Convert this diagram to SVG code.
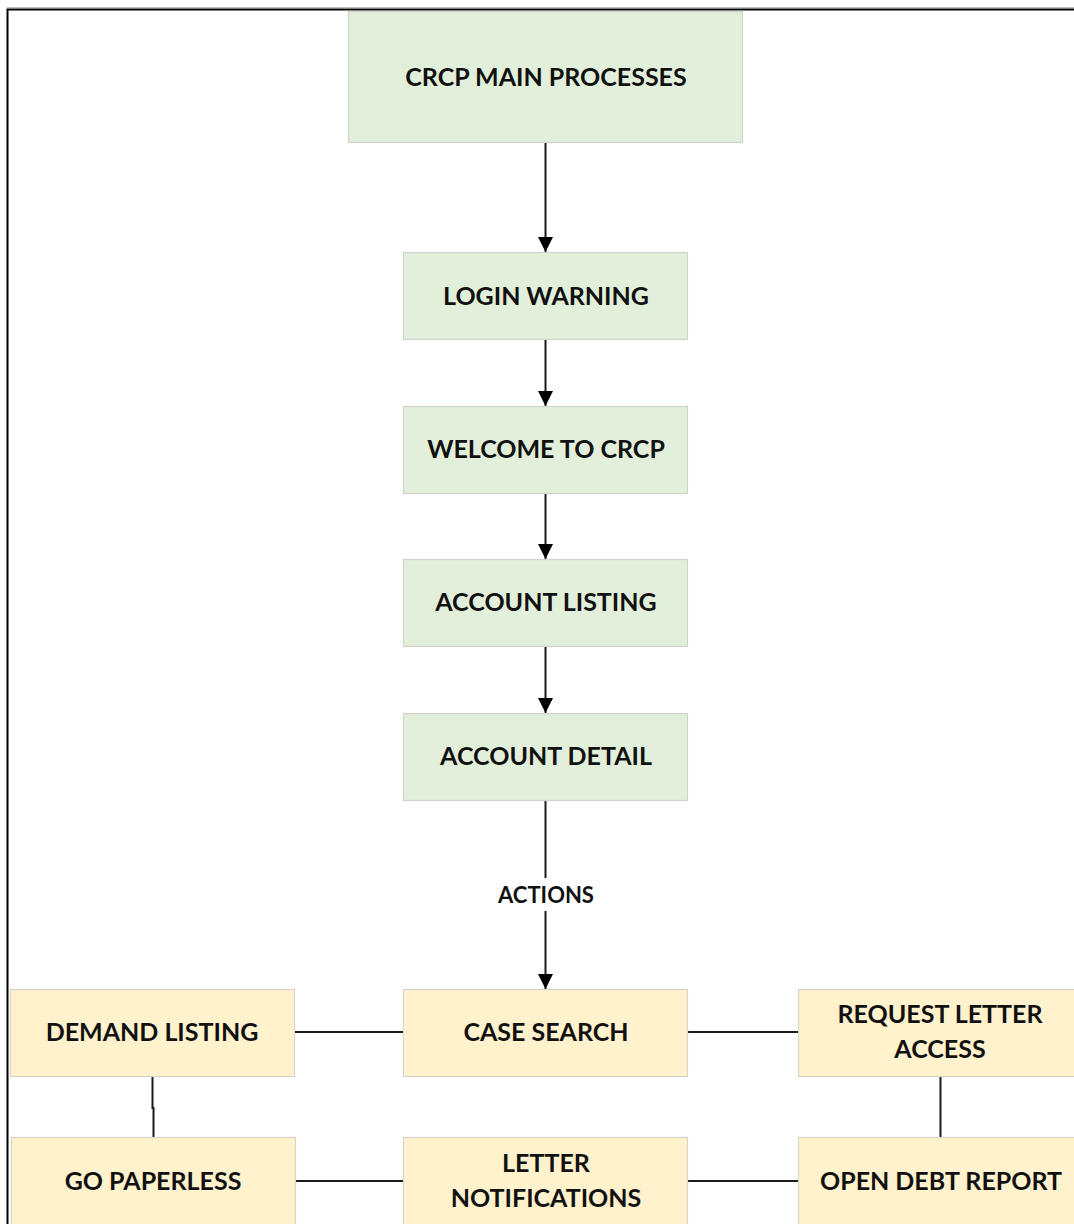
<svg xmlns="http://www.w3.org/2000/svg" width="1074" height="1224" viewBox="0 0 1074 1224">
<style>
.g{fill:#e2efda;stroke:#cfd4cc;stroke-width:1.2}
.y{fill:#fff2cc;stroke:#d6d3c8;stroke-width:1.2}
.t{font-family:Lato,"Liberation Sans",sans-serif;font-weight:bold;font-size:25px;fill:#111;text-anchor:middle}
.s{font-size:22px}
.c{stroke:#1a1a1a;stroke-width:2;fill:none}
</style>
<defs>
<marker id="ah" markerWidth="15" markerHeight="15" viewBox="0 0 15 15" refX="15" refY="7.5" orient="auto" markerUnits="userSpaceOnUse">
<path d="M0,0 L15,7.5 L0,15 Z" fill="#000"/>
</marker>
</defs>
<rect width="1074" height="1224" fill="#fff"/>
<path d="M7.5,1224 V9.5 H1074" fill="none" stroke="#000" stroke-width="2"/>
<line x1="7" y1="7.5" x2="1074" y2="7.5" stroke="#bbb" stroke-width="1"/>

<g id="connectors">
<line class="c" x1="545.5" y1="143" x2="545.5" y2="252" marker-end="url(#ah)"/>
<line class="c" x1="545.5" y1="340" x2="545.5" y2="406" marker-end="url(#ah)"/>
<line class="c" x1="545.5" y1="493" x2="545.5" y2="559" marker-end="url(#ah)"/>
<line class="c" x1="545.5" y1="646" x2="545.5" y2="713" marker-end="url(#ah)"/>
<line class="c" x1="545.5" y1="800" x2="545.5" y2="878"/>
<line class="c" x1="545.5" y1="911" x2="545.5" y2="989" marker-end="url(#ah)"/>
<text class="t s" x="546" y="903">ACTIONS</text>
<line class="c" x1="294" y1="1032" x2="403" y2="1032"/>
<line class="c" x1="688" y1="1032" x2="798" y2="1032"/>
<line class="c" x1="295" y1="1181" x2="403" y2="1181"/>
<line class="c" x1="688" y1="1181" x2="798" y2="1181"/>
<path class="c" d="M152.5,1076 V1108 H153.5 V1137"/>
<line class="c" x1="940.5" y1="1076" x2="940.5" y2="1137"/>
</g>

<g id="crcp-main"><rect class="g" x="348.5" y="11.5" width="394" height="131"/><text class="t" x="546" y="86">CRCP MAIN PROCESSES</text></g>
<g id="login-warning"><rect class="g" x="403.5" y="252.5" width="284" height="87"/><text class="t" x="546" y="305">LOGIN WARNING</text></g>
<g id="welcome"><rect class="g" x="403.5" y="406.5" width="284" height="87"/><text class="t" x="546" y="458">WELCOME TO CRCP</text></g>
<g id="account-listing"><rect class="g" x="403.5" y="559.5" width="284" height="87"/><text class="t" x="546" y="611">ACCOUNT LISTING</text></g>
<g id="account-detail"><rect class="g" x="403.5" y="713.5" width="284" height="87"/><text class="t" x="546" y="765">ACCOUNT DETAIL</text></g>

<g id="case-search"><rect class="y" x="403.5" y="989.5" width="284" height="87"/><text class="t" x="546" y="1041">CASE SEARCH</text></g>
<g id="demand-listing"><rect class="y" x="10.5" y="989.5" width="284" height="87"/><text class="t" x="152" y="1041">DEMAND LISTING</text></g>
<g id="request-letter-access"><rect class="y" x="798.5" y="989.5" width="284" height="87"/><text class="t" x="940" y="1023">REQUEST LETTER</text><text class="t" x="940" y="1058">ACCESS</text></g>
<g id="go-paperless"><rect class="y" x="11.5" y="1137.5" width="284" height="90"/><text class="t" x="153" y="1190">GO PAPERLESS</text></g>
<g id="letter-notifications"><rect class="y" x="403.5" y="1137.5" width="284" height="90"/><text class="t" x="546" y="1172">LETTER</text><text class="t" x="546" y="1207">NOTIFICATIONS</text></g>
<g id="open-debt-report"><rect class="y" x="798.5" y="1137.5" width="284" height="90"/><text class="t" x="941" y="1190">OPEN DEBT REPORT</text></g>
</svg>
